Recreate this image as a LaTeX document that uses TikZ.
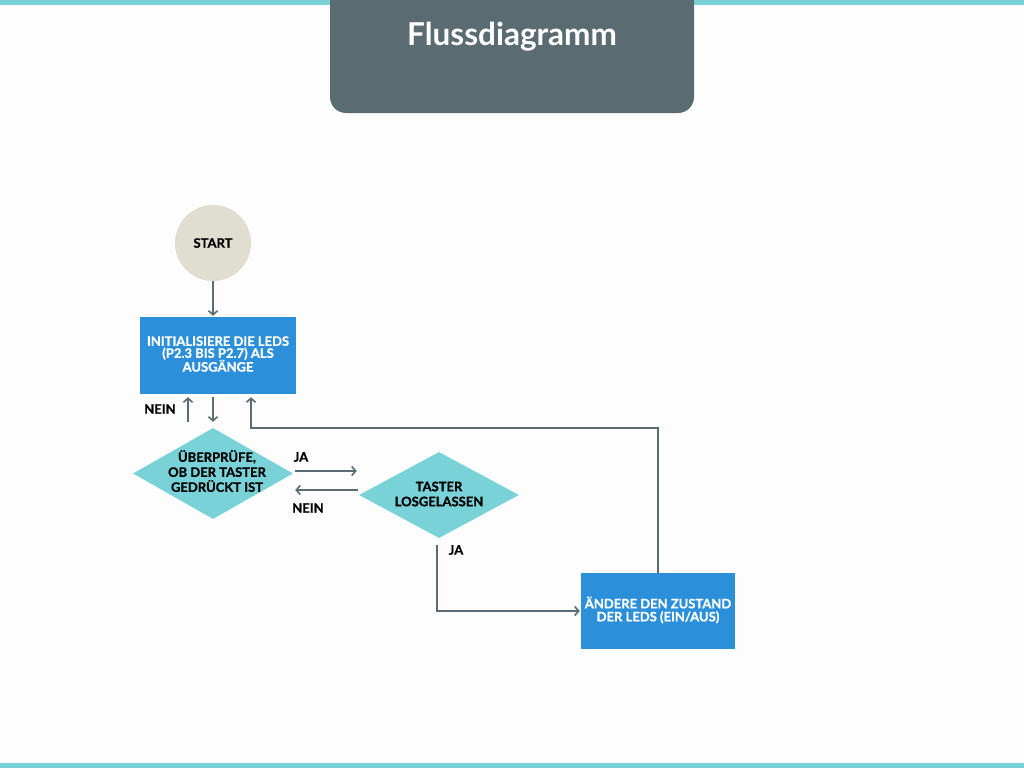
\documentclass[tikz,border=0pt]{standalone}
\usepackage{fontspec}
\setmainfont{Lato}[BoldFeatures={FakeBold=0.8}]
\newfontfamily\titlefont{Lato}
\usetikzlibrary{arrows.meta,shapes.geometric,calc}
\definecolor{bg}{HTML}{FDFDFD}
\definecolor{tealbar}{HTML}{78D2D6}
\definecolor{titlegray}{HTML}{5B6B72}
\definecolor{linegray}{HTML}{5B6B72}
\definecolor{beige}{HTML}{E0DDD1}
\definecolor{boxblue}{HTML}{2C8FDA}
\definecolor{diateal}{HTML}{78D2D8}
\tikzset{
  lbl/.style={font=\bfseries\fontsize{13}{13}\selectfont, text=black, inner sep=0pt},
  boxtext/.style={font=\bfseries\fontsize{13}{13}\selectfont, align=center, inner sep=0pt},
  procbox/.style={rectangle, fill=boxblue, text=white, inner sep=0pt},
  decbox/.style={diamond, fill=diateal, inner sep=0pt},
  arr/.style={draw=linegray, line width=2pt, -{Straight Barb[length=4pt,width=9pt,line width=1.6pt]}},
}
\begin{document}
\begin{tikzpicture}[x=1pt,y=-1pt]
\fill[bg] (0,0) rectangle (1024,768);
\useasboundingbox (0,0) rectangle (1024,768);
\fill[tealbar] (0,0) rectangle (1024,5);
\fill[tealbar] (0,763) rectangle (1024,768);
\fill[titlegray, rounded corners=16pt] (330,-30) rectangle (694,113);
\node[font=\titlefont\bfseries\fontsize{31.5}{31.5}\selectfont, text=white] (title) at (512,37) {Flussdiagramm};

\node[circle, fill=beige, minimum size=76pt, inner sep=0pt, font=\bfseries\fontsize{13}{13}\selectfont] (start) at (213,243) {START};

\node[procbox, minimum width=156pt, minimum height=77pt] (init) at (218,355.5) {};
\node[boxtext, text=white] (inittext) at (218,354) {INITIALISIERE DIE LEDS\\[-1pt](P2.3 BIS P2.7) ALS\\[-1pt]AUSGÄNGE};

\node[decbox, minimum width=160pt, minimum height=91pt] (check) at (213,473.5) {};
\node[boxtext] (checktext) at (217,471) {ÜBERPRÜFE,\\[2pt]OB DER TASTER\\[2pt]GEDRÜCKT IST};

\node[decbox, minimum width=160pt, minimum height=86pt] (rel) at (439,495) {};
\node[boxtext] (reltext) at (439,494) {TASTER\\[2pt]LOSGELASSEN};

\node[procbox, minimum width=154pt, minimum height=76pt] (change) at (658,611) {};
\node[boxtext, text=white] (changetext) at (658,610) {ÄNDERE DEN ZUSTAND\\[0pt]DER LEDS (EIN/AUS)};

\draw[arr, shorten >=1pt] (start.south) -- (start.south |- init.north);
\draw[arr, shorten <=3pt, shorten >=6pt] (check.north |- init.south) -- (check.north);
\draw[arr, shorten <=6pt, shorten >=3pt] ([xshift=-25pt]check.north) -- ([xshift=-25pt]check.north |- init.south);
\node[lbl] (nein1) at (160,409) {NEIN};

\draw[arr, shorten <=2pt, shorten >=2pt] ([yshift=2.5pt]check.east) -- ([yshift=2.5pt]check.east -| rel.west);
\node[lbl] (ja1) at (301,457) {JA};
\draw[arr, shorten <=1pt, shorten >=2pt] ([yshift=5pt]rel.west) -- ([yshift=5pt]rel.west -| check.east);
\node[lbl] (nein2) at (308,508) {NEIN};

\draw[arr, shorten <=7pt, shorten >=1pt] ([xshift=-2pt]rel.south) |- (change.west);
\node[lbl] (ja2) at (456,550) {JA};

\draw[arr, shorten >=3pt] (change.north) |- ([xshift=33pt,yshift=-34pt]init.south) -- ([xshift=33pt]init.south);
\end{tikzpicture}
\end{document}
